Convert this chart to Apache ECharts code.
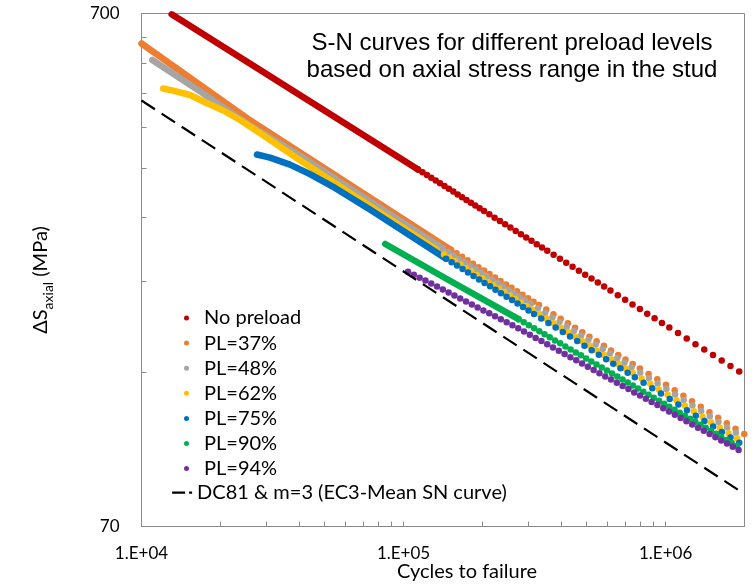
<!DOCTYPE html>
<html>
<head>
<meta charset="utf-8">
<script src="https://cdn.jsdelivr.net/npm/echarts/dist/echarts.min.js"></script>
<style>
  html, body { margin: 0; padding: 0; background: #fff; }
  #chart { width: 756px; height: 585px; }
</style>
</head>
<body>
<div id="chart"></div>
<script>
// Axis ticks and labels
const xTickMarks = [1e4, 2e4, 3e4, 4e4, 5e4, 6e4, 7e4, 8e4, 9e4, 1e5, 2e5, 3e5, 4e5, 5e5, 6e5, 7e5, 8e5, 9e5, 1e6];
const xLabelValues = [1e4, 1e5, 1e6];
const xLabelTexts = ['1.E+04', '1.E+05', '1.E+06'];
const yTickMarks = [70, 140, 210, 280, 350, 420, 490, 560, 630, 700];
const yLabelValues = [70, 700];
const yLabelTexts = ['70', '700'];

const seriesNames = ['No preload', 'PL=37%', 'PL=48%', 'PL=62%', 'PL=75%', 'PL=90%', 'PL=94%'];
const referenceName = 'DC81 & m=3 (EC3-Mean SN curve)';

// No preload: separated points (cycles, MPa)
const noPreloadCycles = [1909000, 1768000, 1637000, 1516000, 1404000, 1300000, 1204000, 1115000, 1033000,
  968200, 907600, 850800, 797500, 747600, 700800, 657000, 615800, 582600, 551200, 521400, 493300, 466700,
  441500, 417600, 395100, 373800, 353600, 337600, 322300, 307700, 293800, 280500, 267800, 255700, 244100,
  233100, 222500, 212500, 202900, 195200, 187800, 180700, 173800, 167200, 160900, 154800, 148900, 143300,
  137800, 132600, 127600, 122800, 118100, 113600];
const noPreloadStress = [140.3, 143.8, 147.4, 151.1, 154.9, 158.7, 162.7, 166.8, 171.0,
  174.5, 178.2, 181.9, 185.8, 189.7, 193.6, 197.7, 201.9, 205.5, 209.2, 213.0, 216.8, 220.7,
  224.7, 228.7, 232.8, 237.0, 241.3, 244.9, 248.6, 252.3, 256.1, 259.9, 263.8, 267.8, 271.8,
  275.9, 280.0, 284.2, 288.5, 292.1, 295.8, 299.5, 303.2, 307.0, 310.8, 314.7, 318.6, 322.6,
  326.7, 330.7, 334.9, 339.1, 343.3, 347.6];
// No preload: closely packed stretch at high stress
const noPreloadTraceCycles = [113600, 13030];
const noPreloadTraceStress = [347.6, 697.4];

// PL=37%
const pl37Cycles = [1995000, 1848000, 1712000, 1586000, 1470000, 1362000, 1261000, 1169000, 1083000, 1003000,
  929300, 861000, 797600, 748700, 702800, 659700, 619200, 581200, 545600, 512100, 480700, 451200, 423500,
  397600, 373200, 350300, 328800, 313300, 298500, 284400, 271000, 258200, 246000, 234400, 223400, 212800,
  202800, 193200, 184100, 175400, 167200, 159300, 151800];
const pl37Stress = [106.0, 108.6, 111.3, 114.1, 116.9, 119.8, 122.8, 125.9, 129.0, 132.2,
  135.5, 138.8, 142.3, 145.2, 148.2, 151.2, 154.3, 157.5, 160.7, 164.0, 167.4, 170.8, 174.3,
  177.9, 181.5, 185.3, 189.1, 192.0, 195.0, 198.1, 201.2, 204.3, 207.5, 210.7, 214.0, 217.4,
  220.8, 224.2, 227.7, 231.3, 234.9, 238.6, 242.3];
const pl37TraceCycles = [151800, 25350, 10000];
const pl37TraceStress = [242.3, 436.9, 611.8];

// PL=48%
const pl48Cycles = [1854500, 1717800, 1591400, 1474300, 1366500, 1266100, 1172200, 1086700, 1006700, 932400,
  863800, 800400, 741400, 696000, 653300, 613200, 575600, 540300, 507200, 476000, 446800, 419400, 393700,
  369600, 346900, 325600, 305600, 291200, 277500, 264400, 251900, 240000, 228700, 217900, 207700, 197800,
  188500, 179600, 171100, 163000, 155400, 148100, 141100];
const pl48Stress = [106.6, 109.2, 111.9, 114.8, 117.6, 120.5, 123.5, 126.6, 129.7, 133.0,
  136.3, 139.6, 143.1, 146.0, 149.0, 152.1, 155.2, 158.4, 161.6, 164.9, 168.4, 171.8, 175.3,
  178.9, 182.5, 186.4, 190.2, 193.1, 196.1, 199.2, 202.3, 205.5, 208.7, 211.9, 215.2, 218.6,
  222.1, 225.5, 229.0, 232.6, 236.2, 240.0, 243.7];
const pl48TraceCycles = [141100, 62450, 40250, 25350, 16720, 10995];
const pl48TraceStress = [243.7, 319.3, 369.8, 426.3, 493.5, 568.3];

// PL=62%
const pl62Cycles = [1876000, 1737800, 1609900, 1491400, 1382300, 1280800, 1185800, 1099300, 1018400, 943200,
  873900, 809700, 750000, 704000, 660900, 620400, 582300, 546500, 513100, 481600, 452000, 424300, 398200,
  373900, 350900, 329400, 309200, 294600, 280700, 267400, 254800, 242800, 231300, 220400, 210100, 200100,
  190700, 181700, 173100, 164900, 157200, 149800, 142700];
const pl62Stress = [103.9, 106.4, 109.1, 111.8, 114.5, 117.4, 120.3, 123.4, 126.4, 129.5,
  132.8, 136.0, 139.4, 142.3, 145.2, 148.2, 151.2, 154.3, 157.5, 160.7, 164.0, 167.4, 170.8,
  174.3, 177.8, 181.6, 185.3, 188.1, 191.1, 194.1, 197.1, 200.2, 203.3, 206.5, 209.7, 213.0,
  216.3, 219.7, 223.1, 226.6, 230.2, 233.8, 237.4];
const pl62TraceCycles = [142700, 62450, 40250, 28320, 23760, 20520, 17730, 15310, 13190, 12080];
const pl62TraceStress = [237.4, 312.9, 362.4, 409.4, 434.0, 452.9, 468.4, 485.6, 495.0, 500.0];

// PL=75%
const pl75Cycles = [1909300, 1768600, 1638400, 1517900, 1406800, 1303500, 1206800, 1118800, 1036500, 959900,
  889400, 824000, 763300, 716500, 672600, 631400, 592600, 556200, 522200, 490100, 460000, 431800, 405300,
  380500, 357200, 335200, 314700, 299800, 285700, 272200, 259400, 247100, 235400, 224300, 213800, 203700,
  194100, 184900, 176200, 167900, 160000, 152500, 145300];
const pl75Stress = [101.9, 104.4, 107.0, 109.7, 112.4, 115.1, 118.0, 121.0, 124.0, 127.1,
  130.2, 133.4, 136.8, 139.5, 142.4, 145.3, 148.3, 151.4, 154.4, 157.6, 160.9, 164.2, 167.5,
  171.0, 174.4, 178.1, 181.7, 184.5, 187.4, 190.4, 193.4, 196.3, 199.4, 202.5, 205.7, 208.9,
  212.2, 215.5, 218.8, 222.3, 225.8, 229.3, 232.9];
const pl75TraceCycles = [145300, 74440, 54740, 43940, 36860, 30920, 27580];
const pl75TraceStress = [232.9, 290.3, 319.9, 340.3, 355.3, 366.6, 371.8];

// PL=90%
const pl90Cycles = [1870800, 1787300, 1707500, 1631200, 1558400, 1488800, 1422300, 1358800, 1298200, 1240200,
  1184800, 1131900, 1081400, 1033100, 987000, 942900, 900800, 860600, 822200, 785400, 750400, 716900,
  684900, 654300, 625100, 597200, 570500, 545000, 520700, 497400, 475200, 454000, 433700, 414400, 395900,
  378200, 361300, 345200, 329800, 315000, 301000, 287500, 274700];
const pl90Stress = [100.5, 101.8, 103.2, 104.6, 106.1, 107.5, 109.0, 110.5, 112.0, 113.5,
  115.1, 116.6, 118.2, 119.8, 121.5, 123.1, 124.8, 126.5, 128.2, 130.0, 131.8, 133.6,
  135.4, 137.2, 139.1, 141.0, 142.9, 144.9, 146.8, 148.8, 150.9, 152.9, 155.0, 157.1, 159.3,
  161.4, 163.6, 165.9, 168.1, 170.4, 172.8, 175.1, 177.5];
const pl90TraceCycles = [274700, 150300, 85160];
const pl90TraceStress = [177.5, 210.9, 248.8];

// PL=94%
const pl94Cycles = [1899000, 1804700, 1715000, 1629800, 1548800, 1471900, 1398800, 1329300, 1263200, 1200500,
  1140800, 1084200, 1030300, 979100, 930500, 884200, 840300, 798600, 758900, 721200, 685400, 651300,
  619000, 588200, 559000, 531200, 504800, 479700, 455900, 433300, 411700, 391300, 371800, 353400, 335800,
  319100, 303300, 288200, 273900, 260300, 247400, 235100, 223400, 212300, 201700, 191700, 182200, 173100,
  164500, 156400, 148600, 141200, 134200, 127500, 121200, 115200, 109500, 104000];
const pl94Stress = [98.7, 100.1, 101.6, 103.0, 104.5, 106.0, 107.6, 109.1, 110.7, 112.3,
  113.9, 115.6, 117.3, 119.0, 120.7, 122.4, 124.2, 126.0, 127.8, 129.7, 131.5, 133.4,
  135.4, 137.3, 139.3, 141.3, 143.4, 145.5, 147.6, 149.7, 151.9, 154.1, 156.3, 158.6, 160.9,
  163.2, 165.5, 167.9, 170.4, 172.7, 175.0, 177.4, 179.8, 182.2, 184.6, 187.1, 189.6, 192.2,
  194.8, 197.4, 200.1, 202.8, 205.5, 208.3, 211.1, 213.9, 216.8, 219.7];

// EC3 detail category 81 mean curve, m = 3
const referenceCycles = [1e4, 2e6];
const referenceStress = [473.7, 81.0];

const colors = ['#C00000', '#ED7D31', '#A5A5A5', '#FFC000', '#0070C0', '#00B050', '#7030A0'];

const groups = [
  [noPreloadCycles, noPreloadStress, noPreloadTraceCycles, noPreloadTraceStress],
  [pl37Cycles, pl37Stress, pl37TraceCycles, pl37TraceStress],
  [pl48Cycles, pl48Stress, pl48TraceCycles, pl48TraceStress],
  [pl62Cycles, pl62Stress, pl62TraceCycles, pl62TraceStress],
  [pl75Cycles, pl75Stress, pl75TraceCycles, pl75TraceStress],
  [pl90Cycles, pl90Stress, pl90TraceCycles, pl90TraceStress],
  [pl94Cycles, pl94Stress, [], []]
];

const pairs = (xs, ys) => xs.map((x, i) => [x, ys[i]]);
const DOT = 6.5;
const axisGray = '#8a8a8a';
const textFont = 'Lato';

const series = [];
groups.forEach((g, i) => {
  if (g[2].length) {
    series.push({
      type: 'line',
      data: pairs(g[2], g[3]),
      showSymbol: false,
      symbol: 'none',
      silent: true,
      lineStyle: { color: colors[i], width: DOT, cap: 'round', join: 'round' },
      z: 2
    });
  }
  series.push({
    type: 'scatter',
    name: seriesNames[i],
    data: pairs(g[0], g[1]),
    symbol: 'circle',
    symbolSize: DOT,
    itemStyle: { color: colors[i], opacity: 1 },
    z: 2
  });
});
series.push({
  type: 'line',
  name: referenceName,
  data: pairs(referenceCycles, referenceStress),
  symbol: 'none',
  showSymbol: false,
  itemStyle: { color: '#000' },
  lineStyle: { color: '#000', width: 2.2, type: [16, 8] },
  z: 3
});

const chart = echarts.init(document.getElementById('chart'), null, { renderer: 'canvas' });
chart.setOption({
  animation: false,
  backgroundColor: '#fff',
  title: {
    text: 'S-N curves for different preload levels\nbased on axial stress range in the stud',
    left: 512,
    top: 29.5,
    padding: 0,
    textAlign: 'center',
    textStyle: { fontFamily: 'Liberation Sans', fontSize: 24, fontWeight: 'normal', color: '#000', lineHeight: 27 }
  },
  grid: {
    left: 141.5, right: 11.5, top: 13.5, bottom: 58.5,
    containLabel: false,
    outerBoundsMode: 'none',
    show: true, borderColor: axisGray, borderWidth: 1, backgroundColor: 'transparent'
  },
  legend: [
    {
      data: seriesNames,
      orient: 'vertical',
      left: 184, top: 308,
      padding: 0,
      itemWidth: 25, itemHeight: 5, itemGap: 5.1,
      icon: 'circle',
      selectedMode: false,
      textStyle: { fontFamily: textFont, fontSize: 20, color: '#000', lineHeight: 20 }
    },
    {
      data: [referenceName],
      orient: 'vertical',
      left: 171, top: 482.7,
      padding: 0,
      itemWidth: 20, itemHeight: 5,
      selectedMode: false,
      itemStyle: { color: 'transparent', borderColor: 'transparent', borderWidth: 0 },
      lineStyle: { type: [13, 4], width: 2.2, color: '#000' },
      textStyle: { fontFamily: textFont, fontSize: 20, color: '#000', lineHeight: 20 }
    }
  ],
  xAxis: {
    type: 'log', logBase: 10, min: 1e4, max: 2e6,
    name: 'Cycles to failure',
    nameLocation: 'middle', nameGap: 35,
    nameMoveOverlap: false,
    nameTextStyle: { fontFamily: textFont, fontSize: 20, color: '#000', padding: [0, 0, 0, 48] },
    axisLine: { show: true, lineStyle: { color: axisGray, width: 1 } },
    axisTick: { show: true, inside: true, length: 5, customValues: xTickMarks, lineStyle: { color: axisGray } },
    axisLabel: {
      customValues: xLabelValues, margin: 19,
      fontFamily: textFont, fontSize: 17, color: '#000',
      formatter: v => xLabelTexts[xLabelValues.findIndex(t => Math.abs(t - v) / t < 1e-6)]
    },
    splitLine: { show: false }, minorTick: { show: false }, minorSplitLine: { show: false }
  },
  yAxis: {
    type: 'log', logBase: 10, min: 70, max: 700,
    name: '{d|ΔS}{s|axial}{d| (MPa)}',
    nameLocation: 'middle', nameRotate: 90, nameGap: 86,
    nameMoveOverlap: false,
    nameTextStyle: {
      padding: [0, 20, 0, 0],
      rich: {
        d: { fontFamily: textFont, fontSize: 20, color: '#000', lineHeight: 30 },
        s: { fontFamily: textFont, fontSize: 14, color: '#000', lineHeight: 30, verticalAlign: 'bottom' }
      }
    },
    axisLine: { show: true, lineStyle: { color: axisGray, width: 1 } },
    axisTick: { show: true, inside: true, length: 5, customValues: yTickMarks, lineStyle: { color: axisGray } },
    axisLabel: {
      customValues: yLabelValues, margin: 22, verticalAlign: 'middle',
      fontFamily: textFont, fontSize: 17, color: '#000',
      formatter: v => yLabelTexts[yLabelValues.findIndex(t => Math.abs(t - v) / t < 1e-6)]
    },
    splitLine: { show: false }, minorTick: { show: false }, minorSplitLine: { show: false }
  },
  series: series
});
</script>
</body>
</html>
